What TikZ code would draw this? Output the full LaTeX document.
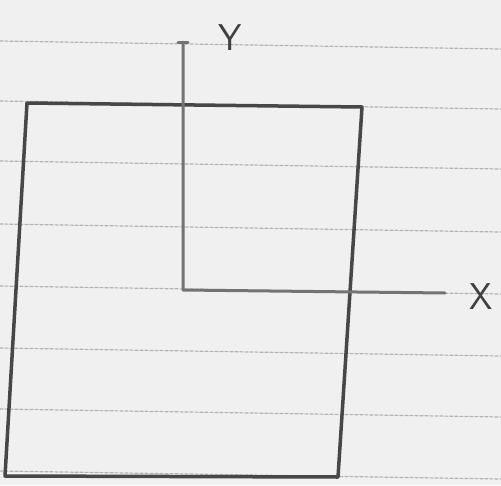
\documentclass[tikz,border=0pt]{standalone}
\usepackage{tikz}
\usetikzlibrary{arrows}

\begin{document}
\begin{tikzpicture}[x = 1pt, y = -1pt, % pixel-like units
                line join = round, line cap = round,
                thick % line style
            ]

            \tikzstyle{paper}=[gray!60, densely dashed, line width = 1.2pt]
            \tikzstyle{pencil}=[black!72, line width = 3.5pt]
            \tikzstyle{axis}=[black!55, line width = 3pt]
            \tikzstyle{every node}=[black!75, scale = 1.5, font = \Huge\sffamily]

            \useasboundingbox[fill = gray!12] (0,0) rectangle (501,485);

            % lines of the paper
            \foreach \y in {45, 105, 165, 228, 290, 352, 413, 475}
                \draw[paper] (0,\y-4) -- (501,\y+4);

            % the box
            \coordinate (tl) at (27,103); \coordinate (tr) at (362,107);
            \coordinate (br) at (338,477); \coordinate (bl) at (5,476);
            \draw[pencil] (tl) -- (tr) -- (br) -- (bl) -- cycle;

            % axes
            \coordinate (o) at (183,290); \coordinate (ytop) at (183,42);
            \coordinate (xend) at (445,293);
            \draw[axis] (ytop) -- (o) -- (xend);
            \draw[axis] ([xshift=-5pt]ytop) -- ([xshift=5pt]ytop);

            \node (ylab) at (230,38) {Y};
            \node (xlab) at (481,297) {X};
        \end{tikzpicture}
\end{document}
